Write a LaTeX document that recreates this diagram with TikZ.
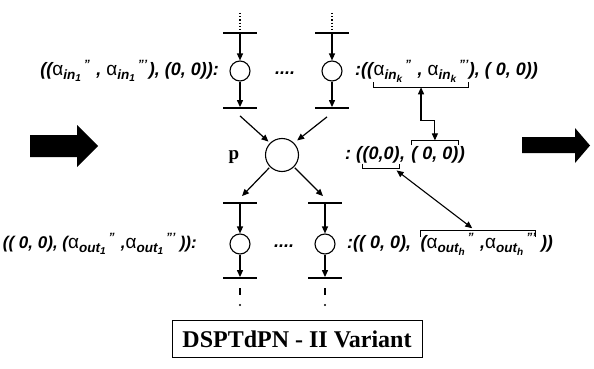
\documentclass[tikz,border=0pt]{standalone}
\usepackage{fontspec}
\setmainfont{Liberation Serif}
\newfontfamily\labfont{Liberation Sans}
\usetikzlibrary{arrows.meta,calc}
\newcommand{\alf}[3]{{\upshape\mdseries\fontsize{19}{19}\selectfont α}\raisebox{-0.45ex}{\fontsize{13.5}{13.5}\selectfont #1\raisebox{-0.3ex}{\fontsize{10}{10}\selectfont #2}}\raisebox{0.75ex}{\fontsize{12}{12}\selectfont\hspace{3pt}#3}\hspace{1.5pt}}
\begin{document}
\begin{tikzpicture}[x=1pt,y=-1pt,
  place/.style={circle,draw,line width=1.1pt,minimum size=20pt,inner sep=0pt},
  bigplace/.style={circle,draw,line width=1.1pt,minimum size=33pt,inner sep=0pt},
  bar/.style={fill=black,draw=none,minimum width=34pt,minimum height=1.4pt,inner sep=0pt},
  arr/.style={line width=1.2pt,-{Triangle[length=7pt,width=6pt]}},
  arrtwo/.style={line width=1.1pt,{Triangle[length=7pt,width=6pt]}-{Triangle[length=7pt,width=6pt]}},
  lbl/.style={font=\labfont\bfseries\itshape\fontsize{18}{18}\selectfont,inner sep=0pt},
  brk/.style={line width=0.9pt},
  dotline/.style={line width=1.2pt,dotted}]
\useasboundingbox (0,0) rectangle (594,369);

% block arrows
\fill (30,135) -- (77,135) -- (77,125) -- (98,146) -- (77,167) -- (77,157) -- (30,157) -- cycle;
\fill (522,137) -- (575,137) -- (575,128) -- (590,145.5) -- (575,163) -- (575,153) -- (522,153) -- cycle;

% input columns
\foreach \n/\x in {1/240,2/332}{
  \coordinate (t\n) at (\x,13);
  \node[bar] (a\n) at (\x,33) {};
  \node[place] (c\n) at (\x,71) {};
  \node[bar] (b\n) at (\x,108) {};
  \draw[dotline] (t\n) -- (a\n);
  \draw[arr] (a\n) -- (c\n);
  \draw[arr] (c\n) -- (b\n);
}
\node[lbl] (dt) at (285,73) {....};

% central place
\node[bigplace] (p) at (282,155) {};
\node[font=\bfseries\fontsize{19}{19}\selectfont,inner sep=0pt] (pl) at (234,157) {p};
\draw[arr,shorten >=2pt] ($(b1.south)+(0,7)$) -- (p.135);
\draw[arr,shorten >=4pt] ($(b2.south)+(-5,8)$) -- (p.45);

% output columns
\foreach \n/\x in {3/240,4/325}{
  \node[bar] (b\n) at (\x,203) {};
  \node[place] (c\n) at (\x,244) {};
  \node[bar] (e\n) at (\x,278) {};
  \coordinate (s\n) at (\x,288);
  \coordinate (u\n) at (\x,295);
  \coordinate (v\n) at (\x,305);
  \draw[arr] (b\n) -- (c\n);
  \draw[arr] (c\n) -- (e\n);
  \draw[line width=1.3pt] (s\n) -- (u\n);
  \fill (v\n) circle (1.1pt);
}
\node[lbl] (db) at (284,246) {....};
\draw[arr,shorten <=1pt] (p.225) -- ($(b3.north)+(2,-6)$);
\draw[arr,shorten <=1pt] (p.315) -- ($(b4.north)+(-2,-6)$);

% top-left label
\node[lbl,anchor=east] (L1) at (219,71) {((\alf{in}{1}{”} ,\ \alf{in}{1}{”’}), (0, 0)):};

% top-right label
\node[lbl,anchor=west] (k1) at (355,71) {:((};
\node[lbl,anchor=base west] (k2) at (k1.base east) {\alf{in}{k}{”} , \alf{in}{k}{”’}};
\node[lbl,anchor=base west] (k3) at (k2.base east) {), ( 0, 0))};
\coordinate (kbl) at ($(k2.south west)+(0,5)$);
\coordinate (kbr) at ($(k2.south east)+(0,5)$);
\draw[brk] ($(kbl)+(0,-5)$) -- (kbl) -- (kbr) -- ($(kbr)+(0,-5)$);
\coordinate (kbm) at ($(kbl)!0.5!(kbr)$);

% middle label
\node[lbl,anchor=west] (m1) at (345,155) {:\hspace*{5pt}(};
\node[lbl,anchor=base west] (m2) at (m1.base east) {(0,0)};
\node[lbl,anchor=base west] (m3) at (m2.base east) {,\hspace*{6pt}};
\node[lbl,anchor=base west] (m4) at (m3.base east) {( 0, 0)};
\node[lbl,anchor=base west] (m5) at (m4.base east) {)};
\coordinate (mbl) at ($(m2.south west)+(0,5)$);
\coordinate (mbr) at ($(m2.south east)+(0,5)$);
\draw[brk] ($(mbl)+(0,-5)$) -- (mbl) -- (mbr) -- ($(mbr)+(0,-5)$);
\coordinate (mtl) at ($(m4.north west)+(0,-6)$);
\coordinate (mtr) at ($(m4.north east)+(0,-6)$);
\draw[brk] ($(mtl)+(0,5)$) -- (mtl) -- (mtr) -- ($(mtr)+(0,5)$);
\coordinate (mtm) at ($(mtl)!0.5!(mtr)$);
\coordinate (elb) at ($(kbm)!0.62!(mtm)$);
\draw[arrtwo] (kbm) -- (kbm |- elb) -- (mtm |- elb) -- (mtm);

% bottom-left label
\node[lbl,anchor=east,font=\labfont\bfseries\itshape\fontsize{17}{17}\selectfont] (L2) at (197,244) {(( 0, 0), (\alf{out}{1}{”} ,\alf{out}{1}{”’}\,)):};

% bottom-right label
\node[lbl,anchor=west] (h1) at (347,244) {:(( 0, 0),\hspace*{9pt}};
\node[lbl,anchor=base west] (h2) at (h1.base east) {(\alf{out}{h}{”}\ ,\alf{out}{h}{”’}};
\node[lbl,anchor=base west] (h3) at (h2.base east) {\ ))};
\coordinate (htl) at ($(h2.north west)+(0,-3)$);
\coordinate (htr) at ($(h2.north east)+(0,-3)$);
\draw[brk] ($(htl)+(0,7)$) -- (htl) -- (htr) -- ($(htr)+(0,7)$);
\draw[arrtwo,shorten <=3pt,shorten >=3pt] ($(mbl)!0.85!(mbr)$) -- ($(htl)!0.47!(htr)$);

% title box
\node[draw,line width=1pt,minimum width=250pt,minimum height=37pt,inner sep=0pt,
      font=\bfseries\fontsize{24}{24}\selectfont] (title) at (297,339) {DSPTdPN - II Variant};
\end{tikzpicture}
\end{document}
